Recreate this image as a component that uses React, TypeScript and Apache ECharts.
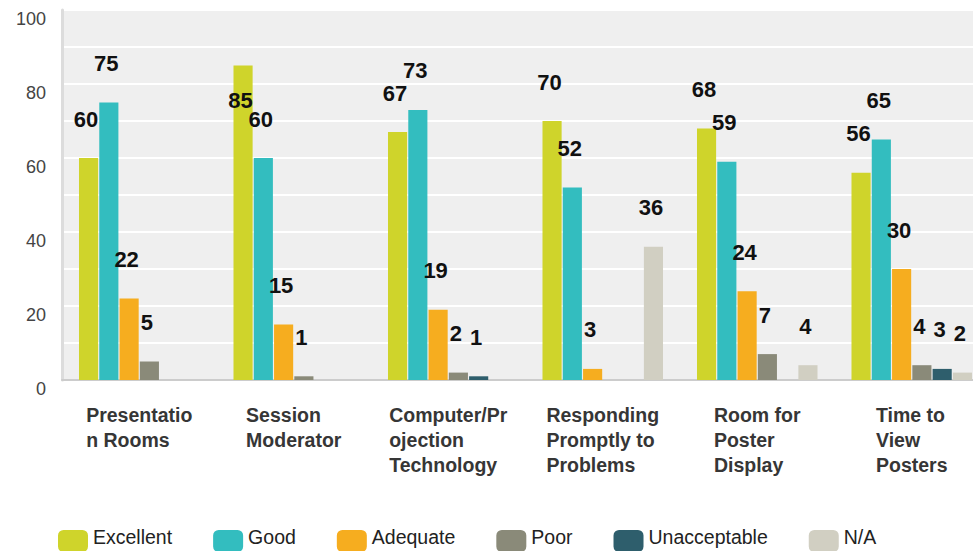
import React, { useEffect, useRef } from "react";
import * as echarts from "echarts";

const categories = [
  "Presentation Rooms",
  "Session Moderator",
  "Computer/Projection Technology",
  "Responding Promptly to Problems",
  "Room for Poster Display",
  "Time to View Posters",
];
const tickLabels = [
  ["Presentatio", "n Rooms"],
  ["Session", "Moderator"],
  ["Computer/Pr", "ojection", "Technology"],
  ["Responding", "Promptly to", "Problems"],
  ["Room for", "Poster", "Display"],
  ["Time to", "View", "Posters"],
];
const seriesNames = ["Excellent", "Good", "Adequate", "Poor", "Unacceptable", "N/A"];
const excellent = [60, 85, 67, 70, 68, 56];
const good = [75, 60, 73, 52, 59, 65];
const adequate = [22, 15, 19, 3, 24, 30];
const poor = [5, 1, 2, 0, 7, 4];
const unacceptable = [0, 0, 1, 0, 0, 3];
const na = [0, 0, 0, 36, 4, 2];
const yTicks = [0, 20, 40, 60, 80, 100];

const colors = ["#cfd42b", "#33bdbf", "#f6ad1f", "#8a8a79", "#2e5e6c", "#d1cfc2"];

export default function App() {
  const ref = useRef<HTMLDivElement>(null);
  useEffect(() => {
    if (!ref.current) return;
    const chart = echarts.init(ref.current, null, { renderer: "svg" });
    const all = [excellent, good, adequate, poor, unacceptable, na];
    const font = "'Liberation Sans', Arial, sans-serif";
    const series = all.map((vals, si) => ({
      name: seriesNames[si],
      type: "bar",
      barGap: "6%",
      barCategoryGap: "22%",
      itemStyle: { color: colors[si] },
      label: {
        show: true,
        position: "top",
        distance: 28,
        offset: [-2.5, 0],
        fontSize: 22,
        fontWeight: "bold",
        color: "#111",
        fontFamily: font,
        formatter: (p: any) => (p.value ? String(p.value) : ""),
      },
      data: vals.map((v) =>
        v >= 80
          ? { value: v, label: { position: "insideTop", distance: 24 } }
          : v
      ),
    }));
    chart.setOption({
      animation: false,
      color: colors,
      textStyle: { fontFamily: font },
      grid: {
        left: 62,
        right: 0,
        top: 10,
        bottom: 171,
        show: true,
        backgroundColor: "#efefef",
        borderWidth: 0,
      },
      legend: {
        left: 58,
        top: 527,
        padding: 0,
        itemWidth: 30,
        itemHeight: 22,
        itemGap: 41,
        icon: "roundRect",
        formatter: "{a|{name}}",
        textStyle: {
          fontSize: 19.5,
          color: "#222",
          fontFamily: font,
          rich: {
            a: {
              fontSize: 19.5,
              color: "#222",
              fontFamily: font,
              padding: [0, 0, 8, 0],
            },
          },
        },
        data: seriesNames,
      },
      xAxis: {
        type: "category",
        data: categories,
        axisLine: { show: true, lineStyle: { color: "#cccccc", width: 2 } },
        axisTick: { show: false },
        splitLine: { show: false },
        axisLabel: {
          interval: 0,
          margin: 22,
          align: "center",
          formatter: (_v: string, i: number) =>
            tickLabels[i].map((l) => `{a|${l}}`).join("\n"),
          rich: {
            a: {
              align: "left",
              fontSize: 19.5,
              fontWeight: "bold",
              color: "#363636",
              lineHeight: 25,
              fontFamily: font,
            },
          },
        },
      },
      yAxis: {
        type: "value",
        min: 0,
        max: 100,
        interval: 20,
        axisLine: { show: true, lineStyle: { color: "#dcdcdc", width: 3 } },
        axisTick: { show: false },
        axisLabel: {
          margin: 16,
          fontSize: 18,
          color: "#444",
          verticalAlign: "top",
          fontFamily: font,
          formatter: (v: number) => (yTicks.includes(v) ? String(v) : ""),
        },
        splitLine: { show: true, lineStyle: { color: "#ffffff", width: 2 } },
        minorTick: { show: false, splitNumber: 2 },
        minorSplitLine: { show: true, lineStyle: { color: "#ffffff", width: 2 } },
      },
      series,
    });
    return () => chart.dispose();
  }, []);
  return (
    <div
      style={{
        position: "absolute",
        left: 0,
        top: 0,
        width: 973,
        height: 551,
        overflow: "hidden",
        background: "#fff",
      }}
    >
      <div ref={ref} style={{ width: 989, height: 551 }} />
    </div>
  );
}
